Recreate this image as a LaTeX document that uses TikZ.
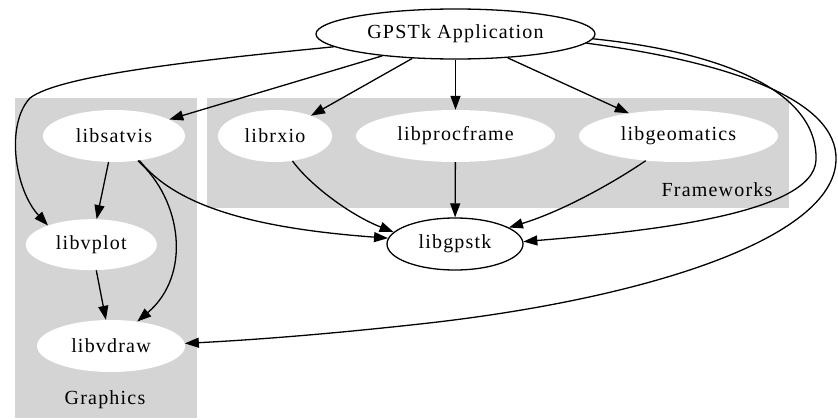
\documentclass[tikz,border=0pt]{standalone}
\usepackage{fontspec}
\setmainfont{Liberation Serif}[LetterSpace=6]
\usetikzlibrary{shapes.geometric,arrows.meta}
\begin{document}
\begin{tikzpicture}[x=1pt,y=-1pt,
  lib/.style={ellipse,fill=white,inner sep=0pt,font=\fontsize{20}{24}\selectfont},
  libb/.style={lib,draw=black,line width=1.3pt},
  cluster/.style={fill=black!17,draw=none},
  clabel/.style={inner sep=0pt,font=\fontsize{20}{24}\selectfont},
  edge/.style={line width=1.3pt,-{Triangle[length=14pt,width=10pt]}}]
\useasboundingbox (0,0) rectangle (838,420);
\fill[white] (0,0) rectangle (838,420);
\fill[cluster] (15,98) rectangle (197,418);
\fill[cluster] (207,98) rectangle (789,208);
\node[clabel] (glab) at (105,400) {Graphics};
\node[clabel] (flab) at (717,190) {Frameworks};

\node[libb,minimum width=279pt,minimum height=50pt] (gps) at (455.5,34) {GPSTk Application};
\node[lib,minimum width=142pt,minimum height=52pt] (satvis) at (114,136) {libsatvis};
\node[lib,minimum width=114pt,minimum height=52pt] (rxio) at (275,136) {librxio};
\node[lib,minimum width=199pt,minimum height=52pt] (procframe) at (455.5,136) {libprocframe};
\node[lib,minimum width=199pt,minimum height=52pt] (geomatics) at (678.5,136) {libgeomatics};
\node[libb,minimum width=136pt,minimum height=52pt] (gpstk) at (455,244) {libgpstk};
\node[lib,minimum width=131pt,minimum height=51pt] (vplot) at (91.3,244.7) {libvplot};
\node[lib,minimum width=148pt,minimum height=52pt] (vdraw) at (111,346) {libvdraw};

\draw[edge] (gps) -- (satvis);
\draw[edge] (gps) -- (rxio);
\draw[edge] (gps) -- (procframe);
\draw[edge] (gps) -- (geomatics);
\draw[edge] (gps.186) .. controls (200,60) and (60,75) .. (30,98)
  .. controls (5,125) and (15,190) .. (vplot.156);
\draw[edge] (gps.358) .. controls (720,52) and (818,90) .. (816,160)
  .. controls (814,215) and (640,232) .. (gpstk.2);
\draw[edge] (gps.356) .. controls (730,62) and (838,100) .. (836,160)
  .. controls (834,240) and (640,300) .. (420,324)
  .. controls (320,335) and (250,340) .. (vdraw.2);
\draw[edge] (satvis) -- (vplot);
\draw[edge] (vplot) -- (vdraw);
\draw[edge] (satvis.314) .. controls (182,200) and (192,275) .. (vdraw.43);
\draw[edge] (satvis.316) .. controls (175,205) and (250,228) .. (gpstk.175);
\draw[edge] (rxio.305) .. controls (310,185) and (350,215) .. (gpstk.169);
\draw[edge] (procframe) -- (gpstk);
\draw[edge] (geomatics.217) .. controls (610,185) and (560,212) .. (gpstk.17);
\end{tikzpicture}
\end{document}
